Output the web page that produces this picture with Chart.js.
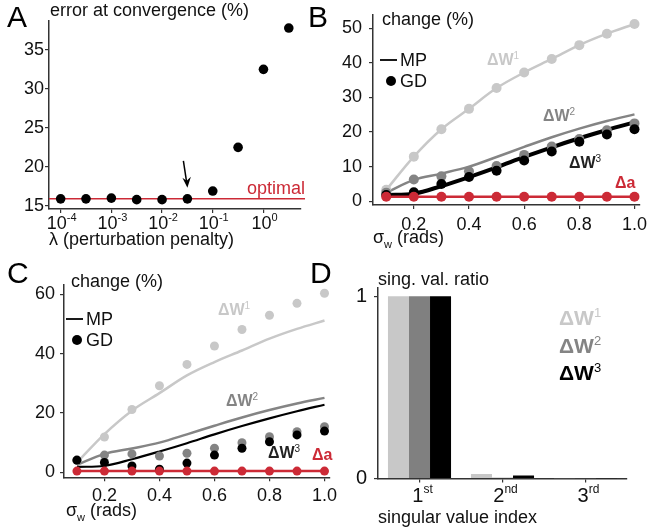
<!DOCTYPE html>
<html>
<head>
<meta charset="utf-8">
<script src="https://cdn.jsdelivr.net/npm/chart.js@4.4.1/dist/chart.umd.min.js"></script>
<style>
  body { margin: 0; background: #fff; }
  #wrap { position: relative; width: 647px; height: 531px; }
  #wrap canvas { position: absolute; left: 0; top: 0; }
</style>
</head>
<body>
<div id="wrap">
  <canvas id="cA" width="647" height="531"></canvas>
  <canvas id="cB" width="647" height="531"></canvas>
  <canvas id="cC" width="647" height="531"></canvas>
  <canvas id="cD" width="647" height="531"></canvas>
</div>
<script>
// ---- panel A: error at convergence vs lambda
const lambdaVals = [0.0001, 0.000316, 0.001, 0.00316, 0.01, 0.0316, 0.1, 0.316, 1, 3.16];
const errorAtConv = [15.9, 15.9, 16.0, 15.8, 15.8, 15.9, 16.9, 22.5, 32.5, 37.8];
const optimalErr = 15.9;
const lambdaTickExp = [-4, -3, -2, -1, 0];
const errorTicks = [15, 20, 25, 30, 35];

// ---- panels B and C: change (%) vs sigma_w
const sigmaW = [0.1, 0.2, 0.3, 0.4, 0.5, 0.6, 0.7, 0.8, 0.9, 1.0];
const sigmaTicks = [0.2, 0.4, 0.6, 0.8, 1.0];
// MP (lines)
const mpW1 = [3.3, 12.9, 20.8, 26.7, 32.7, 37.2, 41.1, 45.1, 48.4, 51.2];
const mpW2 = [2.5, 6.2, 8.0, 10.0, 12.8, 15.7, 18.5, 21.0, 23.2, 25.1];
const mpW3 = [1.8, 2.2, 4.4, 7.0, 9.8, 12.8, 15.6, 18.2, 20.6, 22.8];
const mpA_B = [1.3, 1.3, 1.3, 1.3, 1.3, 1.3, 1.3, 1.3, 1.3, 1.3];
const mpA_C = [0.4, 0.4, 0.4, 0.4, 0.4, 0.4, 0.4, 0.4, 0.4, 0.4];
// GD (dots), panel B
const gdW1_B = [3.3, 12.9, 20.8, 26.7, 32.7, 37.2, 41.1, 45.1, 48.4, 51.2];
const gdW2_B = [2.5, 6.3, 7.2, 8.7, 10.2, 13.4, 15.8, 18.0, 20.5, 22.5];
const gdW3_B = [1.8, 2.6, 5.0, 7.0, 8.8, 11.8, 14.4, 17.2, 19.3, 20.8];
const gdA_B = [1.3, 1.3, 1.3, 1.3, 1.3, 1.3, 1.3, 1.3, 1.3, 1.3];
// GD (dots), panel C
const gdW1_C = [4.0, 11.9, 21.2, 29.2, 36.4, 42.6, 48.2, 53.0, 57.0, 60.4];
const gdW2_C = [4.0, 5.8, 6.2, 5.5, 6.4, 8.1, 10.0, 12.0, 13.7, 15.4];
const gdW3_C = [4.1, 3.3, 2.1, 1.0, 3.1, 5.8, 8.1, 10.3, 12.6, 13.9];
const gdA_C = [0.4, 0.4, 0.4, 0.4, 0.4, 0.4, 0.4, 0.4, 0.4, 0.4];
const changeTicksB = [0, 10, 20, 30, 40, 50];
const changeTicksC = [0, 20, 40, 60];

// ---- panel D: singular value ratio
const svIndex = ['1st', '2nd', '3rd'];
const svLabelParts = [['1', 'st'], ['2', 'nd'], ['3', 'rd']];
const svW1 = [1, 0.025, 0.002];
const svW2 = [1, 0.004, 0.002];
const svW3 = [1, 0.016, 0.002];
const svTicks = [0, 1];

const W = 647, H = 531;
const YW = 45, XH = 40;   // fixed axis box sizes
const FONT = "'Liberation Sans', Arial, Helvetica, sans-serif";
const AXIS = '#333';
const LIGHT = '#c8c8c8', GRAY = '#848484', BLACK = '#000', RED = '#cc2a36';

function pts(arr) {
    return sigmaW.map((x, i) => ({ x: x, y: arr[i] }));
}

function fixFit(scale) {
    if (scale.isHorizontal()) scale.height = XH; else scale.width = YW;
    scale.paddingLeft = scale.paddingRight = scale.paddingTop = scale.paddingBottom = 0;
}

function setTicks(values) {
    return scale => { scale.ticks = values.map(v => ({ value: v })); };
}

function axis(min, max, tickValues, extra) {
    return Object.assign({
        type: 'linear',
        min: min,
        max: max,
        border: { display: true, color: AXIS, width: 1.5 },
        grid: { display: true, drawOnChartArea: false, drawTicks: true, tickLength: 4, color: AXIS, lineWidth: 1.2 },
        ticks: { color: '#111', font: { family: FONT, size: 18 }, padding: 3 },
        afterBuildTicks: setTicks(tickValues),
        afterFit: fixFit
    }, extra || {});
}

function tickFont(size, padding, cb) {
    const t = { color: '#111', font: { family: FONT, size: size }, padding: padding };
    if (cb) t.callback = cb;
    return t;
}

function layoutFor(l, t, r, b) {
    return { padding: { left: l - YW, top: t, right: W - r, bottom: H - b - XH } };
}

// draw text made of parts [text, size, weight, dy]
function rich(ctx, parts, x, y, color, align) {
    ctx.save();
    ctx.fillStyle = color || '#000';
    ctx.textBaseline = 'alphabetic';
    ctx.textAlign = 'left';
    let total = 0;
    const widths = parts.map(p => {
        ctx.font = `${p[2] || 'normal'} ${p[1]}px ${FONT}`;
        const w = ctx.measureText(p[0]).width;
        total += w;
        return w;
    });
    let cx = x;
    if (align === 'center') cx = x - total / 2;
    if (align === 'right') cx = x - total;
    parts.forEach((p, i) => {
        ctx.font = `${p[2] || 'normal'} ${p[1]}px ${FONT}`;
        ctx.fillText(p[0], cx, y + (p[3] || 0));
        cx += widths[i];
    });
    ctx.restore();
}

function txt(ctx, s, x, y, size, color, weight, align) {
    rich(ctx, [[s, size, weight]], x, y, color, align);
}

function deltaW(ctx, n, x, y, size, color) {
    rich(ctx, [['\u0394W', size, 'bold'], [String(n), Math.round(size * 0.62), 'normal', -size * 0.4]], x, y, color);
}

function sigmaTitle(ctx, x, y) {
    rich(ctx, [['\u03c3', 18], ['w', 11, 'normal', 5], [' (rads)', 18]], x, y, '#111');
}

function legendMPGD(ctx, x, y) {
    ctx.save();
    ctx.strokeStyle = '#000';
    ctx.lineWidth = 1.8;
    ctx.beginPath();
    ctx.moveTo(x, y);
    ctx.lineTo(x + 17, y);
    ctx.stroke();
    ctx.fillStyle = '#000';
    ctx.beginPath();
    ctx.arc(x + 11, y + 21, 5, 0, Math.PI * 2);
    ctx.fill();
    ctx.restore();
    txt(ctx, 'MP', x + 20, y + 6, 18, '#111');
    txt(ctx, 'GD', x + 20, y + 27, 18, '#111');
}

Chart.defaults.font.family = FONT;
Chart.defaults.animation = false;

// ================= A =================
const plugA = {
    id: 'plugA',
    beforeDatasetsDraw(chart) {
        const ctx = chart.ctx, ys = chart.scales.y, a = chart.chartArea;
        const y = ys.getPixelForValue(optimalErr);
        ctx.save();
        ctx.strokeStyle = RED;
        ctx.lineWidth = 1.5;
        ctx.beginPath();
        ctx.moveTo(a.left, y);
        ctx.lineTo(a.right + 4, y);
        ctx.stroke();
        ctx.restore();
    },
    afterDraw(chart) {
        const ctx = chart.ctx, xs = chart.scales.x, ys = chart.scales.y, a = chart.chartArea;
        txt(ctx, 'A', 7, 27, 30, '#000');
        txt(ctx, 'error at convergence (%)', 50, 16, 18, '#111');
        txt(ctx, 'optimal', a.right + 4, ys.getPixelForValue(optimalErr) - 5, 18, RED, 'normal', 'right');
        lambdaTickExp.forEach(e => {
            const x = xs.getPixelForValue(Math.pow(10, e));
            rich(ctx, [['10', 18], [String(e), 11, 'normal', -8]], x + 1, a.bottom + 20, '#111', 'center');
        });
        txt(ctx, '\u03bb (perturbation penalty)', 49, 245, 18, '#111');
        // arrow pointing at the chosen lambda
        const ax = xs.getPixelForValue(lambdaVals[5]);
        const ay = ys.getPixelForValue(errorAtConv[5]) - 11;
        ctx.save();
        ctx.strokeStyle = '#000';
        ctx.fillStyle = '#000';
        ctx.lineWidth = 1.5;
        ctx.beginPath();
        ctx.moveTo(ax - 4, ay - 27);
        ctx.lineTo(ax - 0.8, ay - 6);
        ctx.stroke();
        ctx.beginPath();
        ctx.moveTo(ax, ay);
        ctx.lineTo(ax - 5, ay - 10);
        ctx.lineTo(ax - 0.7, ay - 7);
        ctx.lineTo(ax + 3.5, ay - 11);
        ctx.closePath();
        ctx.fill();
        ctx.restore();
    }
};

new Chart(document.getElementById('cA'), {
    type: 'scatter',
    data: {
        datasets: [{
            data: lambdaVals.map((x, i) => ({ x: x, y: errorAtConv[i] })),
            backgroundColor: '#000',
            borderWidth: 0,
            pointRadius: 4.8,
            clip: false
        }]
    },
    options: {
        responsive: false,
        devicePixelRatio: 1,
        layout: layoutFor(49, 21, 301, 209),
        plugins: { legend: { display: false }, tooltip: { enabled: false } },
        scales: {
            x: axis(0.0000589, 5.5, lambdaTickExp.map(e => Math.pow(10, e)), {
                type: 'logarithmic',
                ticks: { display: false }
            }),
            y: axis(14.6, 38.7, errorTicks, { ticks: tickFont(18, 1) })
        }
    },
    plugins: [plugA]
});

// ================= B and C =================
function changeChart(id, area, xr, yr, yTicks, sets, opts) {
    const datasets = [];
    // dots first so they sit on top; MP lines below
    sets.forEach(s => {
        datasets.push({
            data: pts(s.gd),
            showLine: false,
            backgroundColor: s.color,
            borderWidth: 0,
            pointRadius: opts.dotR,
            clip: false
        });
    });
    sets.forEach(s => {
        datasets.push({
            data: pts(s.mp),
            showLine: true,
            borderColor: s.color,
            borderWidth: s.lw,
            pointRadius: 0,
            tension: 0.35,
            fill: false,
            clip: false
        });
    });
    return new Chart(document.getElementById(id), {
        type: 'scatter',
        data: { datasets: datasets },
        options: {
            responsive: false,
            devicePixelRatio: 1,
            layout: layoutFor(area[0], area[1], area[2], area[3]),
            plugins: { legend: { display: false }, tooltip: { enabled: false } },
            scales: {
                x: axis(xr[0], xr[1], sigmaTicks, {
                    ticks: tickFont(18, opts.xPad, v => Number(v).toFixed(1))
                }),
                y: axis(yr[0], yr[1], yTicks, { ticks: tickFont(18, opts.yPad) })
            }
        },
        plugins: [opts.plugin]
    });
}

changeChart('cB', [373, 15, 640, 205], [0.052, 1.02], [-1.07, 53.8], changeTicksB, [
    { gd: gdA_B, mp: mpA_B, color: RED, lw: 2.5 },
    { gd: gdW3_B, mp: mpW3, color: BLACK, lw: 4 },
    { gd: gdW2_B, mp: mpW2, color: GRAY, lw: 2.5 },
    { gd: gdW1_B, mp: mpW1, color: LIGHT, lw: 2.5 }
], {
    dotR: 5,
    xPad: 5,
    yPad: 7,
    plugin: {
        id: 'plugB',
        afterDraw(chart) {
            const ctx = chart.ctx;
            txt(ctx, 'B', 308, 27, 30, '#000');
            txt(ctx, 'change (%)', 382, 25, 18, '#111');
            legendMPGD(ctx, 380, 60);
            deltaW(ctx, 1, 487, 65, 16, LIGHT);
            deltaW(ctx, 2, 543, 121, 16, GRAY);
            deltaW(ctx, 3, 569, 168, 16, '#222');
            txt(ctx, '\u0394a', 615, 188, 16, RED, 'bold');
            sigmaTitle(ctx, 373, 243);
        }
    }
});

changeChart('cC', [64, 285, 330, 477.3], [0.053, 1.02], [-1.7, 63.2], changeTicksC, [
    { gd: gdA_C, mp: mpA_C, color: RED, lw: 2.5 },
    { gd: gdW3_C, mp: mpW3, color: BLACK, lw: 2.2 },
    { gd: gdW2_C, mp: mpW2, color: GRAY, lw: 2.5 },
    { gd: gdW1_C, mp: mpW1, color: LIGHT, lw: 2.5 }
], {
    dotR: 4.5,
    xPad: 4,
    yPad: 5,
    plugin: {
        id: 'plugC',
        afterDraw(chart) {
            const ctx = chart.ctx;
            txt(ctx, 'C', 7, 283, 30, '#000');
            txt(ctx, 'change (%)', 71, 287, 18, '#111');
            legendMPGD(ctx, 66, 319);
            deltaW(ctx, 1, 218, 315, 16, LIGHT);
            deltaW(ctx, 2, 226, 406, 16, GRAY);
            deltaW(ctx, 3, 268, 458, 16, '#222');
            txt(ctx, '\u0394a', 312, 460, 16, RED, 'bold');
            sigmaTitle(ctx, 66, 516);
        }
    }
});

// ================= D =================
new Chart(document.getElementById('cD'), {
    type: 'bar',
    data: {
        labels: svIndex,
        datasets: [
            { data: svW1, backgroundColor: LIGHT, borderWidth: 0 },
            { data: svW2, backgroundColor: '#808080', borderWidth: 0 },
            { data: svW3, backgroundColor: BLACK, borderWidth: 0 }
        ]
    },
    options: {
        responsive: false,
        devicePixelRatio: 1,
        layout: layoutFor(378, 288, 627, 478.5),
        datasets: { bar: { categoryPercentage: 0.76, barPercentage: 1.0 } },
        plugins: { legend: { display: false }, tooltip: { enabled: false } },
        scales: {
            x: {
                type: 'category',
                offset: true,
                border: { display: true, color: AXIS, width: 1.5 },
                grid: { display: true, offset: false, drawOnChartArea: false, drawTicks: true, tickLength: 4, color: AXIS, lineWidth: 1.2 },
                ticks: { display: false },
                afterFit: fixFit
            },
            y: axis(0, 1.045, svTicks, { ticks: tickFont(20, 7) })
        }
    },
    plugins: [{
        id: 'plugD',
        afterDraw(chart) {
            const ctx = chart.ctx, xs = chart.scales.x;
            txt(ctx, 'D', 310, 283, 30, '#000');
            txt(ctx, 'sing. val. ratio', 378, 285, 18, '#111');
            deltaW(ctx, 1, 559, 325, 21, LIGHT);
            deltaW(ctx, 2, 559, 353, 21, GRAY);
            deltaW(ctx, 3, 559, 380, 21, '#000');
            svLabelParts.forEach((p, i) => {
                const x = xs.getPixelForValue(i);
                rich(ctx, [[p[0], 20], [p[1], 12, 'normal', -9]], x + 3, 502, '#111', 'center');
            });
            txt(ctx, 'singular value index', 378, 523, 18, '#111');
        }
    }]
});
</script>
</body>
</html>
